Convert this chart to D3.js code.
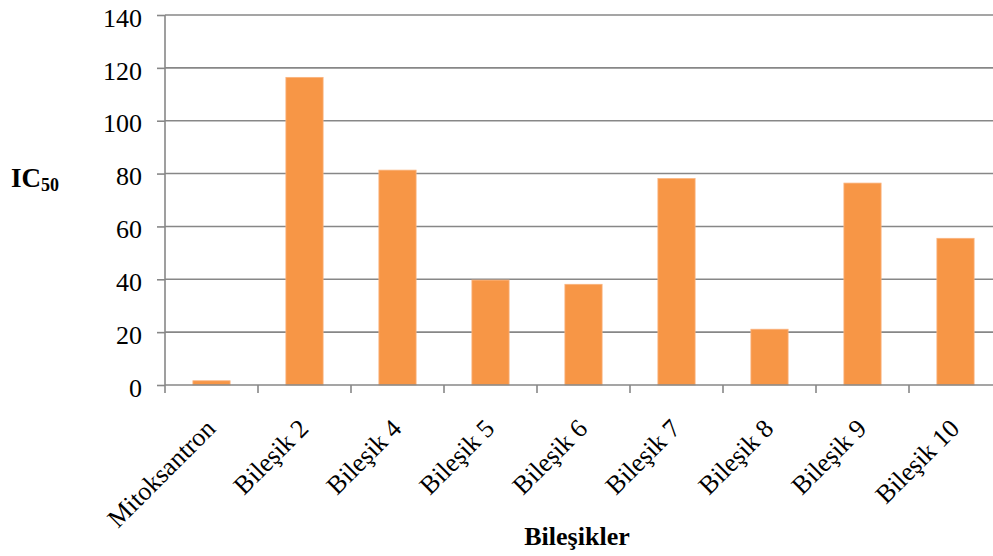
<!DOCTYPE html>
<html>
<head>
<meta charset="utf-8">
<script src="https://cdn.jsdelivr.net/npm/d3@7"></script>
<style>
  html, body { margin: 0; padding: 0; background: #fff; }
  svg { display: block; }
</style>
</head>
<body>
<svg id="chart" width="993" height="556"></svg>
<script>
const categories = ["Mitoksantron", "Bileşik 2", "Bileşik 4", "Bileşik 5", "Bileşik 6", "Bileşik 7", "Bileşik 8", "Bileşik 9", "Bileşik 10"];
const values = [1.6, 116.4, 81.3, 39.7, 38.1, 78.1, 21.1, 76.4, 55.5];
const yTicks = [0, 20, 40, 60, 80, 100, 120, 140];
const xTitle = "Bileşikler";
const yTitleMain = "IC";
const yTitleSub = "50";

(function () {
const svg = d3.select("#chart");
const pLeft = 165, pRight = 1002, pTop = 15, pBottom = 385;
const font = "'Liberation Serif', 'Times New Roman', serif";
const gridColor = "#878787";

const x = d3.scaleBand().domain(categories).range([pLeft, pRight]).padding(0);
const y = d3.scaleLinear().domain([0, 140]).range([pBottom, pTop]);

// gridlines
svg.append("g").selectAll("line").data(yTicks.filter(d => d > 0)).join("line")
  .attr("x1", pLeft).attr("x2", pRight)
  .attr("y1", d => y(d)).attr("y2", d => y(d))
  .attr("stroke", gridColor).attr("stroke-width", 1.6);

// bars
const bw = x.bandwidth() * 0.4;
svg.append("g").selectAll("rect").data(values).join("rect")
  .attr("x", (d, i) => x(categories[i]) + (x.bandwidth() - bw) / 2)
  .attr("width", bw)
  .attr("y", d => y(d))
  .attr("height", d => y(0) - y(d))
  .attr("fill", "#F79646")
  .attr("stroke", "#FAB37E").attr("stroke-width", 0.8);

// y axis
const yAxis = svg.append("g").attr("transform", `translate(${pLeft},0)`)
  .call(d3.axisLeft(y).tickValues(yTicks).tickSize(8).tickPadding(15).tickFormat(d3.format("d")));
yAxis.select(".domain").attr("stroke", gridColor).attr("stroke-width", 1.6).attr("d", `M0,${pTop}V${pBottom}`);
yAxis.selectAll(".tick line").attr("stroke", gridColor).attr("stroke-width", 1.6);
yAxis.selectAll(".tick text").attr("font-family", font).attr("font-size", 26).attr("fill", "#000").attr("dy", "0.43em");

// x axis (ticks at band boundaries)
const xAxis = svg.append("g").attr("transform", `translate(0,${pBottom})`);
xAxis.append("line").attr("x1", pLeft).attr("x2", pRight).attr("y1", 0).attr("y2", 0)
  .attr("stroke", gridColor).attr("stroke-width", 1.6);
const boundaries = categories.map(c => x(c)).concat([pRight]);
xAxis.selectAll("line.tk").data(boundaries).join("line").attr("class", "tk")
  .attr("x1", d => d).attr("x2", d => d).attr("y1", 0).attr("y2", 8)
  .attr("stroke", gridColor).attr("stroke-width", 1.6);
xAxis.selectAll("text").data(categories).join("text")
  .attr("transform", d => `translate(${x(d) + x.bandwidth() / 2 + 5.5},${45}) rotate(-45)`)
  .attr("text-anchor", "end")
  .attr("font-family", font).attr("font-size", 26).attr("fill", "#000")
  .text(d => d);

// axis titles
svg.append("text").attr("x", 577).attr("y", 545).attr("text-anchor", "middle")
  .attr("font-family", font).attr("font-size", 26).attr("font-weight", "bold").text(xTitle);

const yt = svg.append("text").attr("x", 11).attr("y", 187)
  .attr("font-family", font).attr("font-size", 27).attr("font-weight", "bold");
yt.append("tspan").text(yTitleMain);
yt.append("tspan").attr("font-size", 18).attr("dy", 4).text(yTitleSub);
})();
</script>
</body>
</html>
